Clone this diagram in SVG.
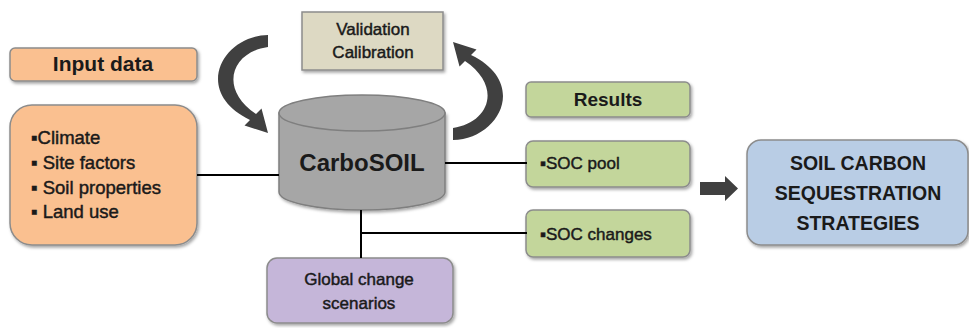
<svg xmlns="http://www.w3.org/2000/svg" width="969" height="328" viewBox="0 0 969 328">
<defs>
<filter id="sh" x="-10%" y="-10%" width="125%" height="130%">
<feDropShadow dx="1.5" dy="2" stdDeviation="1.5" flood-color="#000" flood-opacity="0.35"/>
</filter>
</defs>
<style>
.box{stroke:#8c8c8c;stroke-width:1.5;filter:url(#sh)}
.t{font-family:"Liberation Sans",Arial,sans-serif;fill:#1a1a1a}
.r{stroke:#1a1a1a;stroke-width:0.45}
.b{font-weight:bold}
.c{text-anchor:middle}
.ln{stroke:#000;stroke-width:2;fill:none}
.ar{fill:#404040}
</style>
<rect width="969" height="328" fill="#fff"/>
<g id="input-data">
<rect class="box" x="10" y="48" width="187" height="33" rx="5" fill="#fac090"/>
<text class="t b c" x="103" y="71" font-size="21">Input data</text>
</g>
<g id="input-list">
<rect class="box" x="10" y="105" width="187" height="140" rx="22" fill="#fac090"/>
<text class="t r" x="31" y="144" font-size="18.5">▪Climate</text>
<text class="t r" x="31" y="169" font-size="18.5">▪ Site factors</text>
<text class="t r" x="31" y="194" font-size="18.5">▪ Soil properties</text>
<text class="t r" x="31" y="218" font-size="18.5">▪ Land use</text>
</g>
<g id="validation">
<rect class="box" x="302" y="12" width="141" height="58" fill="#ddd9c3"/>
<text class="t r c" x="373" y="35" font-size="17">Validation</text>
<text class="t r c" x="373" y="58" font-size="17">Calibration</text>
</g>
<g id="carbosoil">
<path d="M279,113 L279,192 A83,18 0 0 0 445,192 L445,113 Z" fill="#a6a6a6" stroke="#7f7f7f" stroke-width="1.5" filter="url(#sh)"/>
<ellipse cx="362" cy="113" rx="83" ry="18" fill="#a6a6a6" stroke="#7f7f7f" stroke-width="1.5"/>
<text class="t b c" x="362" y="171" font-size="24">CarboSOIL</text>
</g>
<g id="global-change">
<rect class="box" x="267" y="258" width="186" height="65" rx="10" fill="#c5b6d9"/>
<text class="t r c" x="359" y="285" font-size="17">Global change</text>
<text class="t r c" x="359" y="309" font-size="17">scenarios</text>
</g>
<g id="results">
<rect class="box" x="526" y="82" width="164" height="35" rx="5" fill="#c3d69b"/>
<text class="t b c" x="608" y="106" font-size="19">Results</text>
</g>
<g id="soc-pool">
<rect class="box" x="526" y="141" width="164" height="46" rx="7" fill="#c3d69b"/>
<text class="t r" x="540" y="169" font-size="17">▪SOC pool</text>
</g>
<g id="soc-changes">
<rect class="box" x="526" y="210" width="164" height="47" rx="7" fill="#c3d69b"/>
<text class="t r" x="540" y="240" font-size="17">▪SOC changes</text>
</g>
<g id="strategies">
<rect class="box" x="747" y="140" width="221" height="105" rx="14" fill="#b9cde5"/>
<text class="t b c" x="858" y="170" font-size="19.5">SOIL CARBON</text>
<text class="t b c" x="858" y="200" font-size="19.5">SEQUESTRATION</text>
<text class="t b c" x="858" y="230" font-size="19.5">STRATEGIES</text>
</g>
<g id="connectors">
<line class="ln" x1="197" y1="175" x2="279" y2="175"/>
<line class="ln" x1="445" y1="163" x2="527" y2="163"/>
<line class="ln" x1="361" y1="210" x2="361" y2="258"/>
<line class="ln" x1="360" y1="233" x2="527" y2="233"/>
<polygon class="ar" points="700,182 725,182 725,176 738,188.5 725,201 725,195 700,195"/>
<path class="ar" d="M268,35 C222,36 192,92 250,120 L244.5,125.5 L268,133 L261.5,108.5 L256,114 C218,88 232,52 268,47 Z"/>
<path class="ar" transform="rotate(180 360.5 87.5)" d="M268,35 C222,36 192,92 250,120 L244.5,125.5 L268,133 L261.5,108.5 L256,114 C218,88 232,52 268,47 Z"/>
</g>
</svg>
